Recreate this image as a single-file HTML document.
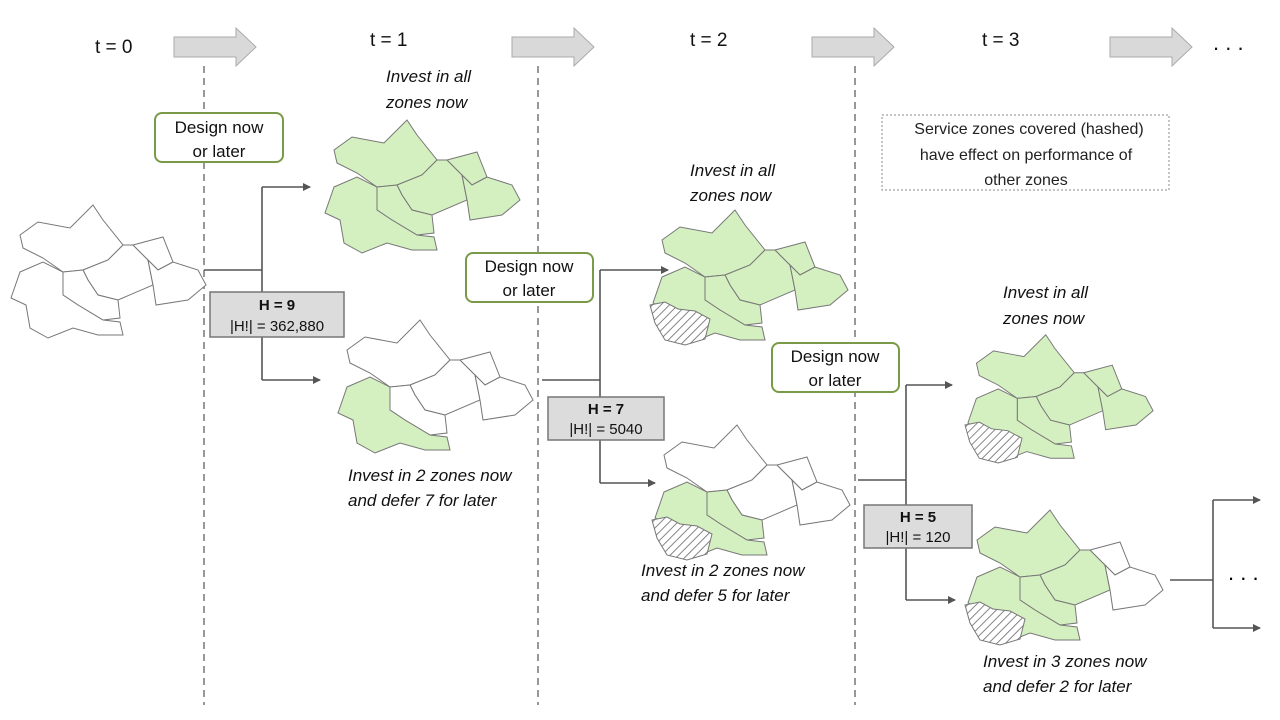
<!DOCTYPE html>
<html><head><meta charset="utf-8"><style>
html,body{margin:0;padding:0;background:#fff;}
svg{display:block;font-family:"Liberation Sans",Calibri,sans-serif;}
</style></head><body>
<svg width="1280" height="720" viewBox="0 0 1280 720" xmlns="http://www.w3.org/2000/svg">
<defs>
<pattern id="hatch" width="6" height="6" patternUnits="userSpaceOnUse" patternTransform="rotate(45)">
<rect width="6" height="6" fill="#fff"/><line x1="0" y1="0" x2="0" y2="6" stroke="#666" stroke-width="1.6"/>
</pattern>
<marker id="ar" markerWidth="8" markerHeight="8" refX="7" refY="4" orient="auto" markerUnits="userSpaceOnUse">
<path d="M0,0 L8,4 L0,8 Z" fill="#555"/></marker>
<polygon id="z1" points="12,35 30,22 62,28 85,5 95,20 115,45 100,60 75,70 55,72 35,58 15,48"/>
<polygon id="z2" points="75,70 100,60 115,45 125,45 140,60 145,85 110,100 90,95 80,80"/>
<polygon id="z3" points="125,45 155,37 165,62 150,70 140,60"/>
<polygon id="z4" points="140,60 150,70 165,62 190,70 198,85 180,100 148,105 145,85"/>
<polygon id="z5" points="55,72 75,70 80,80 90,95 110,100 112,118 95,120 70,105 55,95"/>
<polygon id="z6" points="12,72 35,62 55,72 55,95 70,105 95,120 112,122 115,135 90,135 65,128 40,138 22,128 18,105 3,98"/>
<polygon id="zh" points="0,100 15,97 28,104 45,106 60,114 55,134 35,140 15,135 5,118"/>
</defs>
<g font-size="19" fill="#111">
<text x="95" y="53">t = 0</text><text x="370" y="46">t = 1</text><text x="690" y="46">t = 2</text><text x="982" y="46">t = 3</text>
<text x="1213" y="50" font-size="22">. . .</text>
</g>
<g fill="#d9d9d9" stroke="#aaa" stroke-width="1">
<path d="M174,37 H236 V28 L256,47 L236,66 V57 H174 Z"/>
<path d="M512,37 H574 V28 L594,47 L574,66 V57 H512 Z"/>
<path d="M812,37 H874 V28 L894,47 L874,66 V57 H812 Z"/>
<path d="M1110,37 H1172 V28 L1192,47 L1172,66 V57 H1110 Z"/>
</g>
<g stroke="#777" stroke-width="1.5" stroke-dasharray="7,5">
<line x1="204" y1="66" x2="204" y2="705"/><line x1="538" y1="66" x2="538" y2="705"/><line x1="855" y1="66" x2="855" y2="705"/>
</g>
<g stroke="#777" stroke-width="1" fill="#fff">
<g transform="translate(8,200)"><use href="#z1"/><use href="#z2"/><use href="#z3"/><use href="#z4"/><use href="#z5"/><use href="#z6"/></g>
<g transform="translate(322,115)" fill="#d5f0c0"><use href="#z1"/><use href="#z2"/><use href="#z3"/><use href="#z4"/><use href="#z5"/><use href="#z6"/></g>
<g transform="translate(335,315)"><use href="#z1"/><use href="#z2"/><use href="#z3"/><use href="#z4"/><use href="#z5"/><use href="#z6" fill="#d5f0c0"/></g>
<g transform="translate(650,205)" fill="#d5f0c0"><use href="#z1"/><use href="#z2"/><use href="#z3"/><use href="#z4"/><use href="#z5"/><use href="#z6"/><use href="#zh" fill="url(#hatch)"/></g>
<g transform="translate(652,420)"><use href="#z1"/><use href="#z2"/><use href="#z3"/><use href="#z4"/><use href="#z5" fill="#d5f0c0"/><use href="#z6" fill="#d5f0c0"/><use href="#zh" fill="url(#hatch)"/></g>
<g transform="translate(965,330) scale(0.95)" fill="#d5f0c0"><use href="#z1"/><use href="#z2"/><use href="#z3"/><use href="#z4"/><use href="#z5"/><use href="#z6"/><use href="#zh" fill="url(#hatch)"/></g>
<g transform="translate(965,505)"><use href="#z1" fill="#d5f0c0"/><use href="#z2" fill="#d5f0c0"/><use href="#z3"/><use href="#z4"/><use href="#z5" fill="#d5f0c0"/><use href="#z6" fill="#d5f0c0"/><use href="#zh" fill="url(#hatch)"/></g>
</g>
<g stroke="#555" stroke-width="1.6" fill="none">
<path d="M204,270 H262 M262,187 V380"/><path d="M262,187 H310" marker-end="url(#ar)"/><path d="M262,380 H320" marker-end="url(#ar)"/>
<path d="M542,380 H600 M600,270 V483"/><path d="M600,270 H668" marker-end="url(#ar)"/><path d="M600,483 H655" marker-end="url(#ar)"/>
<path d="M858,480 H906 M906,385 V600"/><path d="M906,385 H952" marker-end="url(#ar)"/><path d="M906,600 H955" marker-end="url(#ar)"/>
<path d="M1170,580 H1213 M1213,500 V628"/><path d="M1213,500 H1260" marker-end="url(#ar)"/><path d="M1213,628 H1260" marker-end="url(#ar)"/>
</g>
<text x="1228" y="580" font-size="22">. . .</text>
<g fill="#dcdcdc" stroke="#777" stroke-width="1.5">
<rect x="210" y="292" width="134" height="45"/><rect x="548" y="397" width="116" height="43"/><rect x="864" y="505" width="108" height="43"/>
</g>
<g font-size="15" text-anchor="middle" fill="#111">
<text x="277" y="310" font-weight="bold">H = 9</text><text x="277" y="331">|H!| = 362,880</text>
<text x="606" y="414" font-weight="bold">H = 7</text><text x="606" y="434">|H!| = 5040</text>
<text x="918" y="522" font-weight="bold">H = 5</text><text x="918" y="542">|H!| = 120</text>
</g>
<g fill="#fff" stroke="#7a9a48" stroke-width="2">
<rect x="155" y="113" width="128" height="49" rx="7"/><rect x="466" y="253" width="127" height="49" rx="7"/><rect x="772" y="343" width="127" height="49" rx="7"/>
</g>
<g font-size="17" text-anchor="middle" fill="#111">
<text x="219" y="133">Design now</text><text x="219" y="157">or later</text>
<text x="529" y="272">Design now</text><text x="529" y="296">or later</text>
<text x="835" y="362">Design now</text><text x="835" y="386">or later</text>
</g>
<rect x="882" y="115" width="287" height="75" fill="none" stroke="#888" stroke-dasharray="2,2"/>
<g font-size="16" text-anchor="middle" fill="#222">
<text x="1029" y="134">Service zones covered (hashed)</text><text x="1026" y="160">have effect on  performance of</text><text x="1026" y="185">other zones</text>
</g>
<g font-size="17" font-style="italic" fill="#111">
<text x="386" y="82">Invest in all</text><text x="386" y="108">zones now</text>
<text x="348" y="481">Invest in 2 zones now</text><text x="348" y="506">and defer 7 for later</text>
<text x="690" y="176">Invest in all</text><text x="690" y="201">zones now</text>
<text x="641" y="576">Invest in 2 zones now</text><text x="641" y="601">and defer 5 for later</text>
<text x="1003" y="298">Invest in all</text><text x="1003" y="324">zones now</text>
<text x="983" y="667">Invest in 3 zones now</text><text x="983" y="692">and defer 2 for later</text>
</g>
</svg>
</body></html>
